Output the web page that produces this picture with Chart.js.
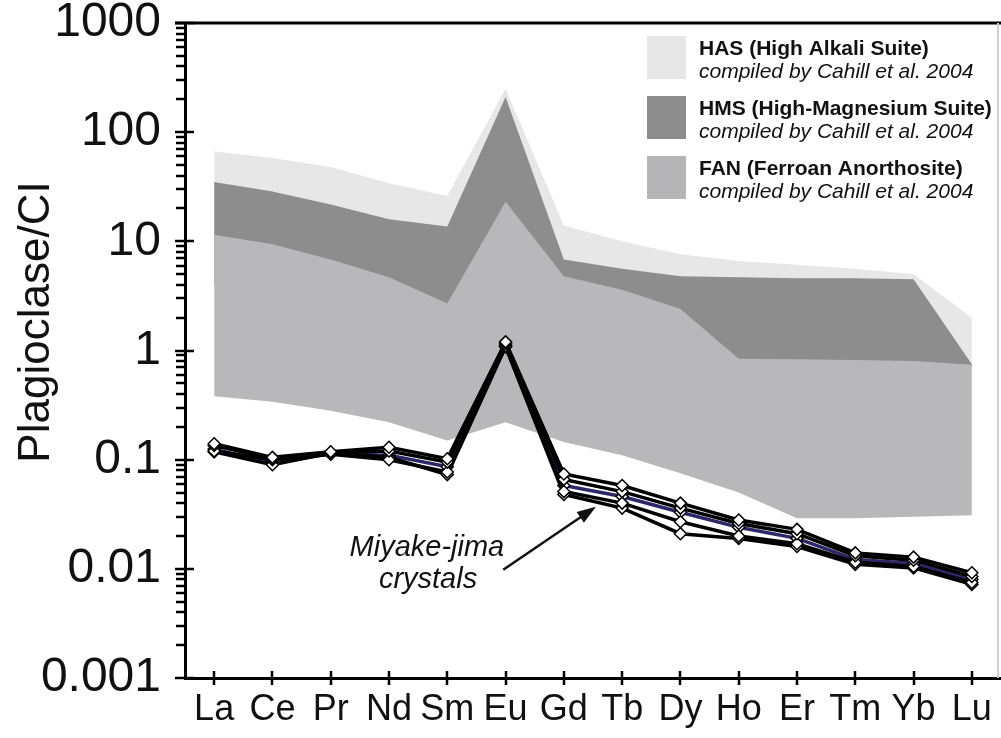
<!DOCTYPE html>
<html>
<head>
<meta charset="utf-8">
<title>Plagioclase/CI REE pattern</title>
<script src="https://cdn.jsdelivr.net/npm/chart.js@4.4.1/dist/chart.umd.min.js"></script>
<style>
  html, body { margin: 0; padding: 0; background: #fff; }
  #wrap { position: relative; width: 1001px; height: 738px; }
</style>
</head>
<body>
<div id="wrap"><canvas id="reeChart" width="1001" height="738"></canvas></div>
<script>
// ==========================================
// Data
// ==========================================
const elements = ['La', 'Ce', 'Pr', 'Nd', 'Sm', 'Eu', 'Gd', 'Tb', 'Dy', 'Ho', 'Er', 'Tm', 'Yb', 'Lu'];

// Lunar plagioclase fields (Cahill et al. 2004), upper and lower envelopes
const hasUpper = [67, 58, 48, 34, 26, 250, 14, 10, 7.6, 6.6, 6.1, 5.6, 5.0, 2.0];
const hasLower = [4, 3.5, 3, 2.6, 2.5, 20, 3, 2, 1.5, 0.8, 0.8, 0.8, 0.78, 0.7];
const hmsUpper = [35, 28.6, 21.8, 15.9, 13.7, 210, 6.8, 5.6, 4.8, 4.7, 4.6, 4.6, 4.5, 0.75];
const hmsLower = [4, 3.5, 3, 2.6, 2.6, 20, 3, 2, 1.5, 0.8, 0.8, 0.8, 0.78, 0.7];
const fanUpper = [11.5, 9.4, 6.8, 4.7, 2.7, 23, 4.8, 3.6, 2.4, 0.84, 0.83, 0.82, 0.8, 0.74];
const fanLower = [0.38, 0.34, 0.28, 0.22, 0.15, 0.22, 0.145, 0.11, 0.075, 0.05, 0.029, 0.029, 0.03, 0.031];

// Miyake-jima plagioclase crystals
const crystalA = [0.14, 0.105, 0.118, 0.13, 0.102, 1.2, 0.074, 0.058, 0.040, 0.028, 0.023, 0.0140, 0.0128, 0.0092];
const crystalB = [0.135, 0.102, 0.116, 0.12, 0.095, 1.16, 0.066, 0.051, 0.036, 0.026, 0.021, 0.0132, 0.0120, 0.0085];
const crystalC = [0.125, 0.093, 0.113, 0.11, 0.086, 1.12, 0.058, 0.046, 0.033, 0.024, 0.019, 0.0122, 0.0112, 0.0080];
const crystalD = [0.12, 0.1, 0.112, 0.1, 0.077, 1.1, 0.051, 0.040, 0.027, 0.020, 0.017, 0.0115, 0.0105, 0.0075];
const crystalE = [0.118, 0.09, 0.115, 0.105, 0.073, 1.08, 0.048, 0.036, 0.021, 0.019, 0.016, 0.011, 0.0102, 0.0072];

const yTickValues = [0.001, 0.01, 0.1, 1, 10, 100, 1000];
const yTickLabels = ['0.001', '0.01', '0.1', '1', '10', '100', '1000'];
const minorSteps = [2, 3, 4, 5, 6, 7, 8, 9];

const yTitle = 'Plagioclase/CI';
const legendNames = ['HAS (High Alkali Suite)', 'HMS (High-Magnesium Suite)', 'FAN (Ferroan Anorthosite)'];
const legendSource = 'compiled by Cahill et al. 2004';
const noteLines = ['Miyake-jima', 'crystals'];

// annotation anchors in data units (category index, ratio)
const noteAnchors = [{ x: 3.65, y: 0.0156 }, { x: 3.67, y: 0.0079 }];
const arrowFrom = { x: 4.96, y: 0.0098 };
const arrowTo = { x: 6.55, y: 0.037 };

// ==========================================
// Styles
// ==========================================
const FONT = '"Liberation Sans", Arial, Helvetica, sans-serif';
const colHAS = '#e7e7e7';
const colHMS = '#8d8d8d';
const colFAN = '#b8b8ba';

function band(label, upper, lower, color, order) {
  return [
    { label, data: upper, borderWidth: 0, pointRadius: 0, backgroundColor: color, fill: '+1', order },
    { label: label + ' low', data: lower, borderWidth: 0, pointRadius: 0, fill: false, order }
  ];
}

function crystal(data, color, order) {
  return {
    label: 'Miyake-jima',
    data,
    borderColor: color,
    borderWidth: 3.5,
    tension: 0,
    fill: false,
    pointStyle: 'rectRot',
    pointRadius: 6,
    pointBorderWidth: 1.5,
    pointBackgroundColor: '#fff',
    pointBorderColor: '#000',
    order
  };
}

function line(ctx, x1, y1, x2, y2) {
  ctx.beginPath();
  ctx.moveTo(x1, y1);
  ctx.lineTo(x2, y2);
  ctx.stroke();
}

// ticks, frame, legend and the arrow note
const decorPlugin = {
  id: 'decor',
  afterDraw(chart) {
    const { ctx, chartArea: area, scales: { x, y } } = chart;
    ctx.save();
    ctx.strokeStyle = '#000';
    ctx.lineWidth = 2.5;

    // y axis ticks: majors cross the axis, minors stick out to the left
    yTickValues.forEach(v => {
      const py = Math.round(y.getPixelForValue(v));
      line(ctx, area.left - 10, py, area.left + 9, py);
    });
    for (let d = -3; d < 3; d++) {
      minorSteps.forEach(m => {
        const py = Math.round(y.getPixelForValue(m * Math.pow(10, d)));
        line(ctx, area.left - 9, py, area.left, py);
      });
    }
    // x axis ticks
    elements.forEach((_, i) => {
      const px = Math.round(x.getPixelForValue(i));
      line(ctx, px, area.bottom - 7, px, area.bottom + 7);
    });

    // frame
    ctx.lineWidth = 3;
    line(ctx, area.left - 10, area.top, area.right, area.top);
    ctx.strokeStyle = '#d0d0d0';
    ctx.lineWidth = 2;
    line(ctx, area.right - 3, area.top, area.right - 3, area.bottom);

    // y title
    ctx.save();
    ctx.translate(37, 322);
    ctx.rotate(-Math.PI / 2);
    ctx.fillStyle = '#111';
    ctx.font = '44px ' + FONT;
    ctx.textAlign = 'center';
    ctx.textBaseline = 'middle';
    ctx.fillText(yTitle, 0, 0);
    ctx.restore();

    // legend
    const swatches = [colHAS, colHMS, '#b5b5b7'];
    legendNames.forEach((name, i) => {
      const top = 36 + i * 60;
      ctx.fillStyle = swatches[i];
      ctx.fillRect(647, top, 39, 43);
      ctx.fillStyle = '#111';
      ctx.textAlign = 'left';
      ctx.textBaseline = 'alphabetic';
      ctx.font = 'bold 21px ' + FONT;
      ctx.fillText(name, 699, 55 + i * 60);
      ctx.font = 'italic 21px ' + FONT;
      ctx.fillText(legendSource, 699, 78 + i * 60);
    });

    // Miyake-jima note and arrow
    ctx.fillStyle = '#111';
    ctx.font = 'italic 29px ' + FONT;
    ctx.textAlign = 'center';
    ctx.textBaseline = 'middle';
    noteLines.forEach((txt, i) => {
      ctx.fillText(txt, x.getPixelForValue(noteAnchors[i].x), y.getPixelForValue(noteAnchors[i].y));
    });
    const x1 = x.getPixelForValue(arrowFrom.x), y1 = y.getPixelForValue(arrowFrom.y);
    const x2 = x.getPixelForValue(arrowTo.x), y2 = y.getPixelForValue(arrowTo.y);
    const ang = Math.atan2(y2 - y1, x2 - x1);
    const head = 20;
    ctx.strokeStyle = '#111';
    ctx.lineWidth = 2.5;
    line(ctx, x1, y1, x2 - Math.cos(ang) * head * 0.8, y2 - Math.sin(ang) * head * 0.8);
    ctx.beginPath();
    ctx.moveTo(x2, y2);
    ctx.lineTo(x2 - head * Math.cos(ang - 0.33), y2 - head * Math.sin(ang - 0.33));
    ctx.lineTo(x2 - head * Math.cos(ang + 0.33), y2 - head * Math.sin(ang + 0.33));
    ctx.closePath();
    ctx.fill();

    ctx.restore();
  }
};

new Chart(document.getElementById('reeChart'), {
  type: 'line',
  data: {
    labels: elements,
    datasets: [
      crystal(crystalA, '#000', 0),
      crystal(crystalB, '#000', 1),
      crystal(crystalD, '#000', 2),
      crystal(crystalE, '#000', 3),
      crystal(crystalC, '#2c2868', 4),
      ...band('FAN', fanUpper, fanLower, colFAN, 10),
      ...band('HMS', hmsUpper, hmsLower, colHMS, 20),
      ...band('HAS', hasUpper, hasLower, colHAS, 30)
    ]
  },
  options: {
    responsive: false,
    animation: false,
    devicePixelRatio: 1,
    layout: { autoPadding: false, padding: { top: 23, right: 0, left: 0, bottom: 0 } },
    plugins: {
      legend: { display: false },
      tooltip: { enabled: false },
      filler: { propagate: false }
    },
    scales: {
      x: {
        type: 'category',
        offset: true,
        grid: { display: false, drawTicks: false },
        border: { display: true, color: '#000', width: 3 },
        ticks: { color: '#111', font: { family: FONT, size: 36 }, padding: 10, maxRotation: 0, autoSkip: false },
        afterFit: s => { s.height = 60; s.paddingLeft = 0; s.paddingRight = 0; }
      },
      y: {
        type: 'logarithmic',
        min: 0.001,
        max: 1000,
        grid: { display: false, drawTicks: false },
        border: { display: true, color: '#000', width: 3 },
        afterBuildTicks: s => { s.ticks = yTickValues.map(v => ({ value: v })); },
        ticks: {
          color: '#111',
          font: { family: FONT, size: 48 },
          padding: 24,
          callback: v => yTickLabels[yTickValues.indexOf(v)] ?? ''
        },
        afterFit: s => { s.width = 185; s.paddingTop = 0; s.paddingBottom = 0; }
      }
    }
  },
  plugins: [decorPlugin]
});
</script>
</body>
</html>
